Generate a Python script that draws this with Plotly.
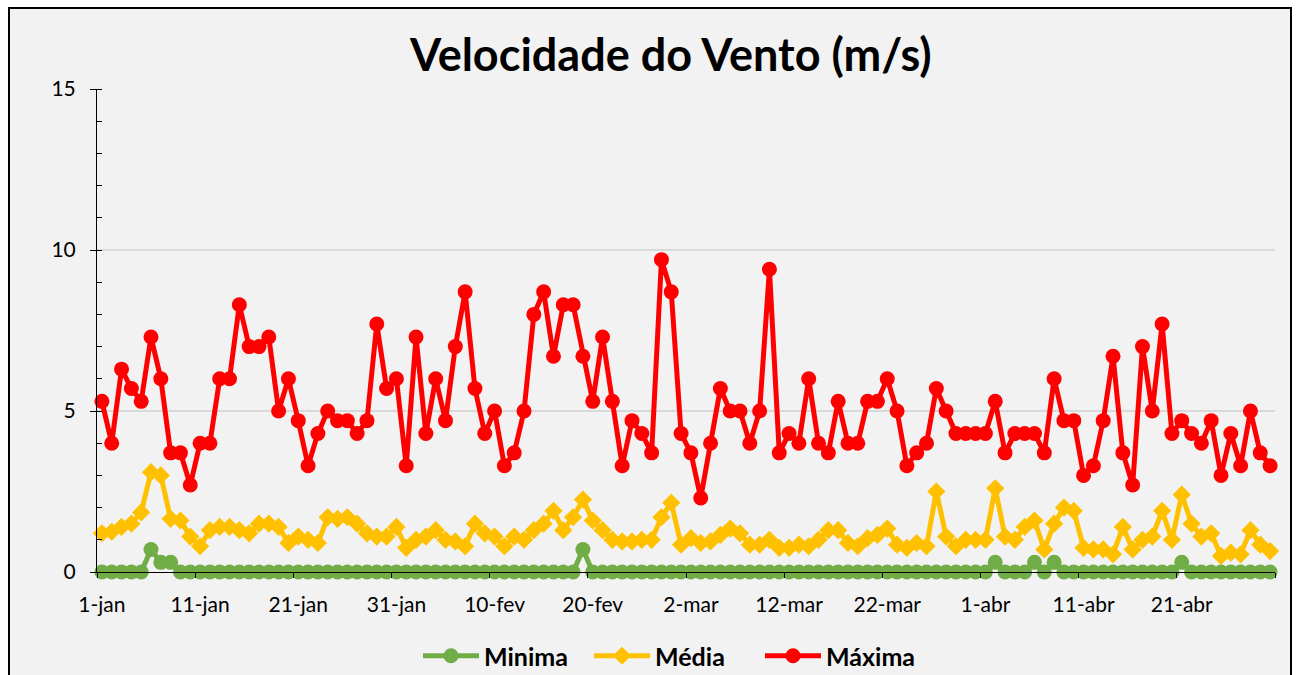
import pandas as pd
import plotly.graph_objects as go

dates = pd.date_range("2023-01-01", periods=120, freq="D")

tick_labels = ["1-jan", "11-jan", "21-jan", "31-jan", "10-fev", "20-fev",
               "2-mar", "12-mar", "22-mar", "1-abr", "11-abr", "21-abr"]

maxima = [5.3, 4.0, 6.3, 5.7, 5.3, 7.3, 6.0, 3.7, 3.7, 2.7,
          4.0, 4.0, 6.0, 6.0, 8.3, 7.0, 7.0, 7.3, 5.0, 6.0,
          4.7, 3.3, 4.3, 5.0, 4.7, 4.7, 4.3, 4.7, 7.7, 5.7,
          6.0, 3.3, 7.3, 4.3, 6.0, 4.7, 7.0, 8.7, 5.7, 4.3,
          5.0, 3.3, 3.7, 5.0, 8.0, 8.7, 6.7, 8.3, 8.3, 6.7,
          5.3, 7.3, 5.3, 3.3, 4.7, 4.3, 3.7, 9.7, 8.7, 4.3,
          3.7, 2.3, 4.0, 5.7, 5.0, 5.0, 4.0, 5.0, 9.4, 3.7,
          4.3, 4.0, 6.0, 4.0, 3.7, 5.3, 4.0, 4.0, 5.3, 5.3,
          6.0, 5.0, 3.3, 3.7, 4.0, 5.7, 5.0, 4.3, 4.3, 4.3,
          4.3, 5.3, 3.7, 4.3, 4.3, 4.3, 3.7, 6.0, 4.7, 4.7,
          3.0, 3.3, 4.7, 6.7, 3.7, 2.7, 7.0, 5.0, 7.7, 4.3,
          4.7, 4.3, 4.0, 4.7, 3.0, 4.3, 3.3, 5.0, 3.7, 3.3]

media = [1.2, 1.25, 1.4, 1.5, 1.85, 3.1, 3.0, 1.65, 1.6, 1.1,
         0.8, 1.3, 1.4, 1.4, 1.3, 1.2, 1.5, 1.5, 1.4, 0.9,
         1.1, 1.0, 0.9, 1.7, 1.65, 1.7, 1.5, 1.2, 1.1, 1.1,
         1.4, 0.75, 1.0, 1.1, 1.3, 1.0, 0.95, 0.8, 1.5, 1.2,
         1.1, 0.8, 1.1, 1.0, 1.3, 1.5, 1.9, 1.3, 1.7, 2.25,
         1.6, 1.3, 1.0, 0.95, 0.95, 1.0, 1.0, 1.7, 2.15, 0.85,
         1.05, 0.9, 0.95, 1.15, 1.35, 1.2, 0.85, 0.85, 1.0, 0.75,
         0.75, 0.85, 0.8, 1.0, 1.3, 1.3, 0.9, 0.8, 1.05, 1.15,
         1.35, 0.85, 0.75, 0.9, 0.8, 2.5, 1.1, 0.8, 1.0, 1.0,
         1.0, 2.6, 1.1, 1.0, 1.4, 1.6, 0.7, 1.5, 2.0, 1.9,
         0.75, 0.7, 0.7, 0.55, 1.4, 0.7, 1.0, 1.1, 1.9, 1.0,
         2.4, 1.5, 1.1, 1.2, 0.5, 0.6, 0.55, 1.3, 0.85, 0.65]

minima = [0, 0, 0, 0, 0, 0.7, 0.3, 0.3, 0, 0,
          0, 0, 0, 0, 0, 0, 0, 0, 0, 0,
          0, 0, 0, 0, 0, 0, 0, 0, 0, 0,
          0, 0, 0, 0, 0, 0, 0, 0, 0, 0,
          0, 0, 0, 0, 0, 0, 0, 0, 0, 0.7,
          0, 0, 0, 0, 0, 0, 0, 0, 0, 0,
          0, 0, 0, 0, 0, 0, 0, 0, 0, 0,
          0, 0, 0, 0, 0, 0, 0, 0, 0, 0,
          0, 0, 0, 0, 0, 0, 0, 0, 0, 0,
          0, 0.3, 0, 0, 0, 0.3, 0, 0.3, 0, 0,
          0, 0, 0, 0, 0, 0, 0, 0, 0, 0,
          0.3, 0, 0, 0, 0, 0, 0, 0, 0, 0]

FONT = "Lato"

fig = go.Figure()
fig.add_trace(go.Scatter(x=dates, y=minima, name="Minima", mode="lines+markers",
                         line=dict(color="#70AD47", width=5),
                         marker=dict(symbol="circle", size=15, color="#70AD47"),
                         cliponaxis=False))
fig.add_trace(go.Scatter(x=dates, y=media, name="Média", mode="lines+markers",
                         line=dict(color="#FFC000", width=5),
                         marker=dict(symbol="diamond", size=14, color="#FFC000"),
                         cliponaxis=False))
fig.add_trace(go.Scatter(x=dates, y=maxima, name="Máxima", mode="lines+markers",
                         line=dict(color="#FF0000", width=5),
                         marker=dict(symbol="circle", size=15, color="#FF0000"),
                         cliponaxis=False))

x0 = dates[0] - pd.Timedelta(hours=12)
x1 = dates[-1] + pd.Timedelta(hours=12)

fig.update_layout(
    width=1300, height=675,
    margin=dict(l=97, r=25, t=89, b=103, autoexpand=False),
    paper_bgcolor="white",
    plot_bgcolor="#F2F2F2",
    font=dict(family=FONT, color="#000000"),
    title=dict(text="<b>Velocidade do Vento (m/s)</b>", x=0.516, xref="container",
               xanchor="center", y=1 - 55 / 675, yref="container", yanchor="middle",
               font=dict(size=45, family=FONT, color="#000000")),
    showlegend=True,
    legend=dict(orientation="h", x=418 / 1300, xref="container", xanchor="left",
                y=1 - 656 / 675, yref="container", yanchor="middle",
                font=dict(size=25, family=FONT, color="#000000", weight=700),
                bgcolor="rgba(0,0,0,0)", itemwidth=56, traceorder="normal",
                entrywidth=100, entrywidthmode="pixels"),
    xaxis=dict(
        type="date", range=[x0, x1], automargin=False,
        tickmode="array", tickvals=list(dates[::10]), ticktext=tick_labels,
        ticks="", showgrid=False, zeroline=False,
        showline=True, linecolor="#000000", linewidth=1,
        tickfont=dict(size=21, family=FONT, color="#000000"),
        ticklabelstandoff=14,
        minor=dict(tick0=x0, dtick=10 * 86400000, ticks="outside", ticklen=5,
                   tickcolor="#000000", tickwidth=1, showgrid=False),
    ),
    yaxis=dict(
        range=[0, 15], tickmode="linear", tick0=0, dtick=5, automargin=False,
        ticks="outside", ticklen=6, tickcolor="#000000", tickwidth=1,
        showline=True, linecolor="#000000", linewidth=1,
        showgrid=True, gridcolor="#D9D9D9", gridwidth=1.5, zeroline=False,
        tickfont=dict(size=21, family=FONT, color="#000000"),
        ticklabelstandoff=10,
        minor=dict(dtick=1, ticks="inside", ticklen=5, tickcolor="#000000",
                   tickwidth=1, showgrid=False),
    ),
    shapes=[dict(type="rect", xref="paper", yref="paper",
                 x0=(9 - 97) / 1178, x1=(1291 - 97) / 1178,
                 y0=(572 - 690) / 483, y1=(572 - 8) / 483,
                 line=dict(color="#000000", width=2), fillcolor="#F2F2F2",
                 layer="below")],
)

fig.write_html("out.html", config={"displayModeBar": False},
               post_script="document.body.style.margin='0';document.body.style.padding='0';")
